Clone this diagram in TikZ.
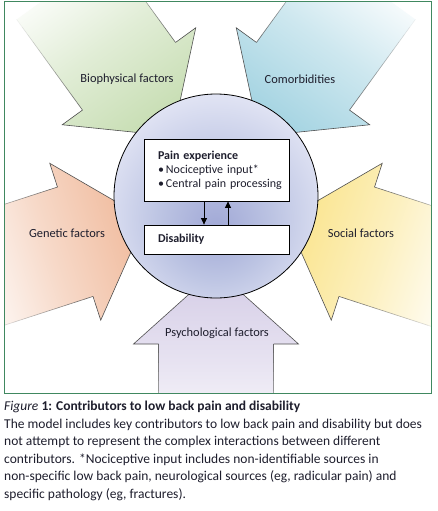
\documentclass[tikz,border=0pt]{standalone}
\usepackage{fontspec}
\setmainfont{Carlito}
\usetikzlibrary{arrows.meta}
\definecolor{frameg}{RGB}{64,136,96}
\definecolor{grnc}{RGB}{200,222,180}
\definecolor{bluc}{RGB}{165,212,226}
\definecolor{salc}{RGB}{240,186,156}
\definecolor{yelc}{RGB}{250,228,140}
\definecolor{lavc}{RGB}{212,204,230}
\definecolor{txtc}{RGB}{30,30,45}
\definecolor{arrl}{RGB}{80,80,80}
\pgfdeclareradialshading{circshade}{\pgfpoint{0bp}{-8bp}}{%
  rgb(0bp)=(0.63,0.66,0.84);
  rgb(14bp)=(0.74,0.77,0.89);
  rgb(30bp)=(0.89,0.9,0.96);
  rgb(45bp)=(0.96,0.96,0.98);
  rgb(60bp)=(0.98,0.98,0.99)}
\tikzset{
  lab/.style={font=\fontsize{12.4}{14}\selectfont, text=txtc, inner sep=0pt},
  boxnode/.style={draw=black, line width=0.8pt, fill=white, align=left,
     font=\fontsize{12}{15}\selectfont, text=txtc},
  arrline/.style={draw=arrl, line width=0.6pt},
  fb/.style={-{Triangle[width=6pt,length=6.5pt]}, line width=0.8pt}
}
\begin{document}
\begin{tikzpicture}[x=1pt,y=-1pt]
\useasboundingbox (0,0) rectangle (438,511);
\fill[white] (0,0) rectangle (438,511);
\coordinate (C) at (216,196);
\begin{scope}
  \clip (4,2) rectangle (431,393);
  \foreach \ang/\col in {270/lavc,198/salc,126/grnc,54/bluc,342/yelc}{
    \pgfmathsetmacro\sa{\ang-270}
    \begin{scope}[shift={(C)},rotate=\ang]
      \shade[top color=\col, bottom color=white, middle color=\col!55!white, shading angle=\sa]
        (74,0) -- (148,82.5) -- (148,57.5) -- (260,57.5) -- (260,-57.5)
        -- (148,-57.5) -- (148,-82.5) -- cycle;
      \draw[arrline] (148,57.5) -- (148,82.5) -- (74,0) -- (148,-82.5) -- (148,-57.5);
      \foreach \i in {0,...,11}{
        \pgfmathsetmacro\op{0.85*(1-\i/12)}
        \pgfmathsetmacro\xa{148+\i*9.34}
        \pgfmathsetmacro\xb{148+(\i+1)*9.34}
        \draw[arrline, draw opacity=\op] (\xa,57.5) -- (\xb,57.5);
        \draw[arrline, draw opacity=\op] (\xa,-57.5) -- (\xb,-57.5);
      }
    \end{scope}
  }
\end{scope}
\draw[frameg, line width=1pt] (4,2) rectangle (431,393);

\node[lab] (bio) at (127,79) {Biophysical factors};
\node[lab] (com) at (300,79) {Comorbidities};
\node[lab] (gen) at (67,233) {Genetic factors};
\node[lab] (soc) at (361,233) {Social factors};
\node[lab] (psy) at (217,333) {Psychological factors};

\node[circle, draw=black, line width=0.8pt, shade, shading=circshade,
      minimum size=204pt, inner sep=0pt] (core) at (C) {};

\node[boxnode, text width=117pt, inner xsep=14pt, minimum height=62pt]
  (pain) at (216.5,170) {\mbox{\textbf{Pain experience}}\\[-1pt] \mbox{•\,Nociceptive input*}\\[-1pt] \mbox{•\,Central pain processing}};
\node[boxnode, text width=117pt, inner xsep=14pt, minimum height=29pt]
  (dis) at (216.5,239.5) {\textbf{Disability}};

\coordinate (xd) at (204,0);
\coordinate (xu) at (228,0);
\draw[fb] (xd |- pain.south) -- (xd |- dis.north);
\draw[fb] (xu |- dis.north) -- (xu |- pain.south);

\node[anchor=north west, align=left, inner sep=0pt, text=txtc,
      font=\fontsize{13.5}{17.5}\selectfont] (cap) at (4,401)
 {\textit{Figure} \textbf{1: Contributors to low back pain and disability}\\
  The model includes key contributors to low back pain and disability but does\\
  not attempt to represent the complex interactions between different\\
  contributors. *Nociceptive input includes non-identifiable sources in\\
  non-specific low back pain, neurological sources (eg, radicular pain) and\\
  specific pathology (eg, fractures).};
\end{tikzpicture}
\end{document}
